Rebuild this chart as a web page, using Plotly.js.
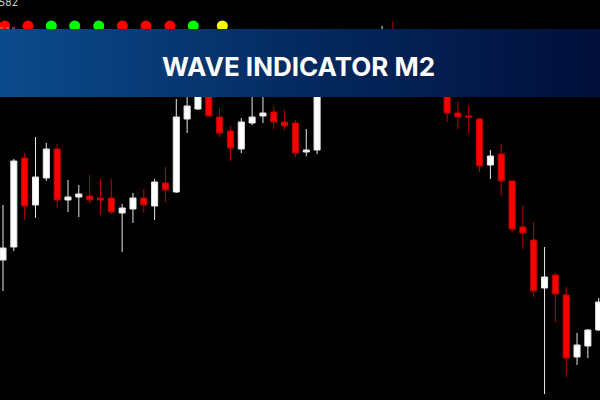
<!DOCTYPE html>
<html>
<head>
<meta charset="utf-8">
<script src="https://cdn.plot.ly/plotly-3.0.1.min.js"></script>
<style>html,body{margin:0;padding:0;background:#000;}#chart{width:600px;height:400px;}</style>
</head>
<body>
<div id="chart"></div>
<script>
// Candle data (price), one value per bar
const open  = [1.2340,1.2353,1.2442,1.2395,1.2422,1.2451,1.2400,1.2403,1.2404,1.2402,1.2402,1.2387,1.2391,1.2402,1.2394,1.2417,1.2408,1.2481,1.2491,1.2512,1.2483,1.2469,1.2451,1.2477,1.2484,1.2488,1.2478,1.2477,1.2448,1.2450,1.2520,1.2538,1.2530,1.2548,1.2554,1.2544,1.2562,1.2550,1.2538,1.2544,1.2525,1.2512,1.2487,1.2484,1.2481,1.2435,1.2446,1.2419,1.2373,1.2360,1.2312,1.2325,1.2305,1.2243,1.2254,1.2270];
const close = [1.2352,1.2439,1.2394,1.2423,1.2451,1.2400,1.2403,1.2406,1.2400,1.2400,1.2388,1.2392,1.2402,1.2395,1.2418,1.2410,1.2483,1.2494,1.2515,1.2484,1.2467,1.2452,1.2478,1.2483,1.2487,1.2478,1.2474,1.2447,1.2450,1.2515,1.2540,1.2530,1.2550,1.2555,1.2545,1.2560,1.2550,1.2538,1.2544,1.2525,1.2512,1.2487,1.2483,1.2483,1.2434,1.2444,1.2419,1.2371,1.2367,1.2309,1.2323,1.2306,1.2242,1.2255,1.2270,1.2298];
const high  = [1.2395,1.2441,1.2447,1.2463,1.2457,1.2456,1.2420,1.2415,1.2425,1.2421,1.2421,1.2396,1.2407,1.2411,1.2421,1.2433,1.2501,1.2510,1.2520,1.2520,1.2492,1.2474,1.2482,1.2510,1.2505,1.2493,1.2490,1.2480,1.2471,1.2525,1.2550,1.2548,1.2558,1.2565,1.2562,1.2574,1.2579,1.2556,1.2552,1.2548,1.2534,1.2520,1.2499,1.2494,1.2482,1.2450,1.2456,1.2420,1.2395,1.2378,1.2353,1.2327,1.2313,1.2267,1.2271,1.2302];
const low   = [1.2309,1.2349,1.2380,1.2382,1.2419,1.2392,1.2388,1.2383,1.2397,1.2385,1.2386,1.2348,1.2377,1.2387,1.2380,1.2398,1.2407,1.2467,1.2490,1.2483,1.2463,1.2439,1.2447,1.2475,1.2477,1.2471,1.2470,1.2443,1.2444,1.2446,1.2512,1.2522,1.2525,1.2540,1.2538,1.2540,1.2542,1.2530,1.2528,1.2518,1.2506,1.2478,1.2471,1.2467,1.2428,1.2421,1.2404,1.2368,1.2351,1.2303,1.2206,1.2278,1.2223,1.2235,1.2242,1.2269];
const barIndex = open.map((_, i) => i);

// Wave indicator dots
const dotX = [0.16, 2.31, 4.46, 6.62, 8.84, 11.02, 13.2, 15.42, 17.57, 20.25];
const dotSignal = ['sell','sell','buy','buy','buy','sell','sell','sell','buy','neutral'];
const dotLevel = 1.2574;
const signalColors = {sell: '#ff0000', buy: '#00ff00', neutral: '#ffff00'};

const titleText = 'WAVE INDICATOR M2';
const priceLabel = '1.2582';

// Banner band (price levels)
const bannerTop = 1.2571, bannerBottom = 1.2503;
const xMin = -0.277, xMax = 55.12;

const candles = {
  type: 'candlestick',
  x: barIndex, open: open, high: high, low: low, close: close,
  increasing: {line: {color: '#e8e8e8', width: 1}, fillcolor: '#ffffff'},
  decreasing: {line: {color: '#c00000', width: 1}, fillcolor: '#ff0000'},
  whiskerwidth: 0,
  hoverinfo: 'skip'
};

const dots = {
  type: 'scatter', mode: 'markers',
  x: dotX, y: dotX.map(() => dotLevel),
  marker: {size: 11, color: dotSignal.map(s => signalColors[s]), line: {width: 0}},
  hoverinfo: 'skip'
};

const banner = {
  type: 'scatter', mode: 'lines',
  x: [xMin - 1, xMax + 1, xMax + 1, xMin - 1, xMin - 1],
  y: [bannerTop, bannerTop, bannerBottom, bannerBottom, bannerTop],
  fill: 'toself',
  line: {width: 0, color: 'rgba(0,0,0,0)'},
  fillgradient: {
    type: 'horizontal', start: xMin, stop: xMax,
    colorscale: [[0, '#0b4b8c'], [0.5, '#042a60'], [1, '#010e3a']]
  },
  hoverinfo: 'skip'
};

const layout = {
  width: 600, height: 400,
  margin: {l: 0, r: 0, t: 0, b: 0},
  paper_bgcolor: '#000000', plot_bgcolor: '#000000',
  showlegend: false,
  boxgap: 0.2,
  xaxis: {range: [xMin, xMax], visible: false, rangeslider: {visible: false}, fixedrange: true},
  yaxis: {range: [1.2200, 1.2600], visible: false, fixedrange: true},
  shapes: [
    {type: 'line', xref: 'paper', yref: 'y', x0: 0, x1: 0.028, y0: 1.2572, y1: 1.2572,
     line: {color: '#9a9a9a', width: 1, dash: 'dot'}}
  ],
  annotations: [
    {text: '<b>' + titleText + '</b>', xref: 'paper', yref: 'y', x: 0.498, y: 1.2534,
     xanchor: 'center', yanchor: 'middle', showarrow: false,
     font: {family: 'Inter, Lato, sans-serif', size: 26, color: '#ffffff'}},
    {text: priceLabel, xref: 'paper', yref: 'paper', x: 0.034, y: 1, yshift: 5,
     xanchor: 'right', yanchor: 'top', showarrow: false,
     font: {family: 'DejaVu Sans, sans-serif', size: 10, color: '#cfcfcf'}}
  ]
};

Plotly.newPlot('chart', [candles, dots, banner], layout, {staticPlot: true, displayModeBar: false});
</script>
</body>
</html>
